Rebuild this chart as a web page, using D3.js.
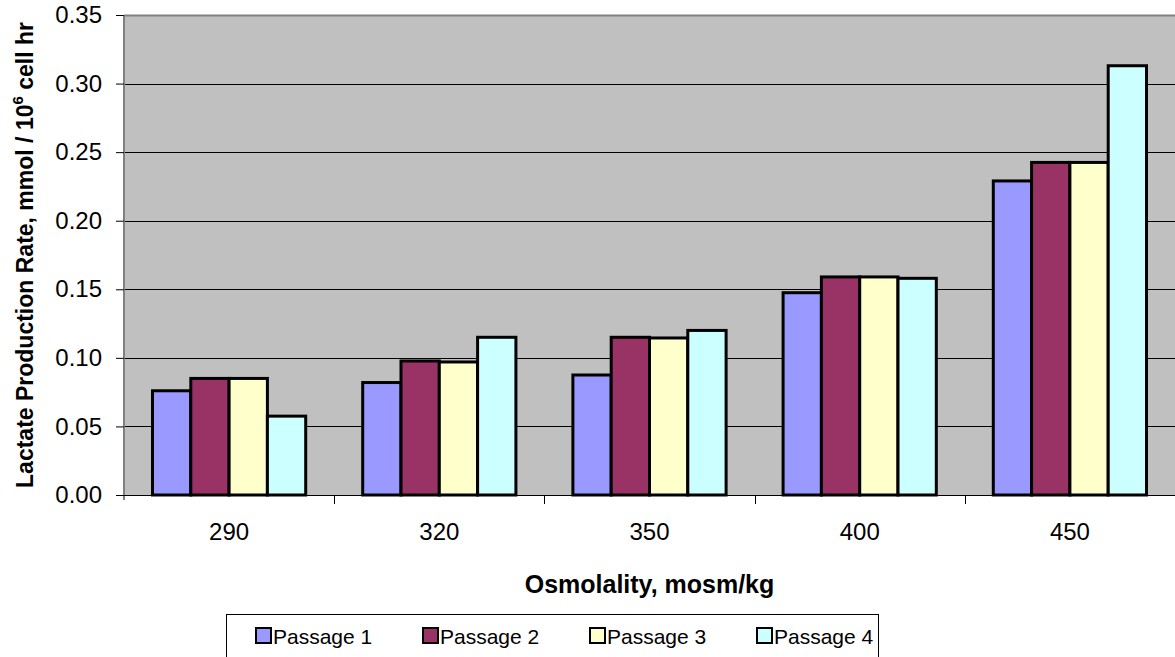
<!DOCTYPE html>
<html>
<head>
<meta charset="utf-8">
<script src="https://cdn.jsdelivr.net/npm/d3@7"></script>
<style>
  body { margin: 0; background: #fff; }
  text { font-family: Arial, "Liberation Sans", sans-serif; }
</style>
</head>
<body>
<svg width="1175" height="657"></svg>
<script>
const svg = d3.select("svg");

// Data
const categories = ["290", "320", "350", "400", "450"];
const seriesNames = ["Passage 1", "Passage 2", "Passage 3", "Passage 4"];
const passage1 = [0.076, 0.082, 0.0875, 0.1475, 0.229];
const passage2 = [0.085, 0.0977, 0.115, 0.159, 0.2425];
const passage3 = [0.085, 0.097, 0.1145, 0.159, 0.2425];
const passage4 = [0.0575, 0.115, 0.120, 0.158, 0.313];
const yTicks = [0, 0.05, 0.10, 0.15, 0.20, 0.25, 0.30, 0.35];
const colors = ["#9999FF", "#993366", "#FFFFCC", "#CCFFFF"];

const series = [passage1, passage2, passage3, passage4];

// Plot area
const plotL = 124, plotR = 1175, plotT = 15, plotB = 495;

// Scales
const x = d3.scaleBand().domain(categories).range([plotL, plotR]).padding(0);
const xs = d3.scaleBand().domain(seriesNames).range([0, x.bandwidth()])
    .paddingInner(0).paddingOuter(0.744);
const y = d3.scaleLinear().domain([0, 0.35]).range([plotB, plotT]);

// Background
svg.append("rect")
    .attr("x", plotL).attr("y", plotT)
    .attr("width", plotR - plotL).attr("height", plotB - plotT)
    .attr("fill", "#C0C0C0");

// Gridlines
svg.append("g")
    .selectAll("line")
    .data(yTicks.slice(1, -1))
    .join("line")
    .attr("x1", plotL).attr("x2", plotR)
    .attr("y1", d => Math.round(y(d)) + 0.5).attr("y2", d => Math.round(y(d)) + 0.5)
    .attr("stroke", "#000").attr("stroke-width", 1);

// top border
svg.append("line")
    .attr("x1", plotL).attr("x2", plotR)
    .attr("y1", plotT + 0.5).attr("y2", plotT + 0.5)
    .attr("stroke", "#808080").attr("stroke-width", 2);

// Bars
const groups = svg.append("g")
    .selectAll("g")
    .data(series)
    .join("g")
    .attr("fill", (d, i) => colors[i]);

groups.selectAll("rect")
    .data((d, i) => d.map((v, j) => ({ v, cat: categories[j], s: seriesNames[i] })))
    .join("rect")
    .attr("x", d => x(d.cat) + xs(d.s))
    .attr("y", d => y(d.v))
    .attr("width", xs.bandwidth())
    .attr("height", d => plotB - y(d.v))
    .attr("stroke", "#000")
    .attr("stroke-width", 3);

// Y axis
const yAxis = svg.append("g")
    .attr("transform", `translate(${plotL},0)`)
    .call(d3.axisLeft(y).tickValues(yTicks).tickFormat(d3.format(".2f")).tickSize(8).tickPadding(14));
yAxis.select(".domain").attr("stroke", "#808080").attr("stroke-width", 2)
    .attr("d", `M0,${plotT}V${plotB + 5}`);
yAxis.selectAll(".tick line").attr("stroke", "#000");
yAxis.selectAll(".tick text")
    .attr("font-size", 24).attr("fill", "#000")
    .attr("font-family", "Arial, 'Liberation Sans', sans-serif");

// X axis
const xAxis = svg.append("g")
    .attr("transform", `translate(0,${plotB})`)
    .call(d3.axisBottom(x).tickSize(0).tickPadding(28));
xAxis.select(".domain").attr("stroke", "#000").attr("stroke-width", 1)
    .attr("d", `M${plotL},0.5H${plotR}`);
xAxis.selectAll(".tick text")
    .attr("font-size", 24).attr("fill", "#000")
    .attr("font-family", "Arial, 'Liberation Sans', sans-serif");

// category boundary ticks
svg.append("g")
    .selectAll("line")
    .data(categories.slice(1))
    .join("line")
    .attr("x1", d => Math.round(x(d)) + 0.5).attr("x2", d => Math.round(x(d)) + 0.5)
    .attr("y1", plotB).attr("y2", plotB + 9)
    .attr("stroke", "#000");

// Axis titles
svg.append("text")
    .attr("x", (plotL + plotR) / 2).attr("y", 593)
    .attr("text-anchor", "middle")
    .attr("font-size", 25).attr("font-weight", "bold")
    .text("Osmolality, mosm/kg");

const yTitle = svg.append("text")
    .attr("transform", `translate(33,${(plotT + plotB) / 2}) rotate(-90)`)
    .attr("text-anchor", "middle")
    .attr("font-size", 23).attr("font-weight", "bold");
yTitle.append("tspan").text("Lactate Production Rate, mmol / 10");
yTitle.append("tspan").attr("dy", -10).attr("font-size", 15).text("6");
yTitle.append("tspan").attr("dy", 10).text(" cell hr");

// Legend
const legend = svg.append("g");
legend.append("rect")
    .attr("x", 226.5).attr("y", 614.5)
    .attr("width", 652).attr("height", 80)
    .attr("fill", "#fff").attr("stroke", "#000").attr("stroke-width", 1);

const legendX = [256, 423, 590, 757];
const items = legend.selectAll("g.item")
    .data(seriesNames)
    .join("g")
    .attr("class", "item")
    .attr("transform", (d, i) => `translate(${legendX[i]},0)`);
items.append("rect")
    .attr("x", 0).attr("y", 628)
    .attr("width", 15).attr("height", 15)
    .attr("fill", (d, i) => colors[i])
    .attr("stroke", "#000").attr("stroke-width", 2);
items.append("text")
    .attr("x", 17).attr("y", 644)
    .attr("font-size", 21)
    .text(d => d);
</script>
</body>
</html>
